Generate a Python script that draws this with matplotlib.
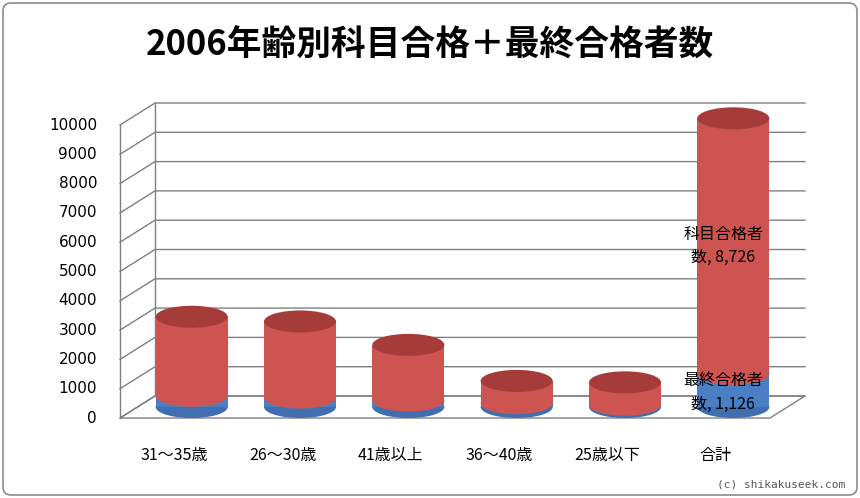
import matplotlib
matplotlib.use("Agg")
import matplotlib.pyplot as plt
from matplotlib.patches import Ellipse, Rectangle, Polygon, FancyBboxPatch

plt.rcParams['font.family'] = ['Noto Sans CJK JP', 'DejaVu Sans']

categories = ["31～35歳", "26～30歳", "41歳以上", "36～40歳", "25歳以下", "合計"]
final_pass = [380, 320, 220, 130, 76, 1126]
subject_pass = [2700, 2600, 1900, 760, 766, 8726]
yticks = list(range(0, 10001, 1000))

W, H = 860, 498
fig = plt.figure(figsize=(W/100, H/100), dpi=100)
ax = fig.add_axes([0, 0, 1, 1])
ax.set_xlim(0, W); ax.set_ylim(H, 0); ax.axis('off')

ax.add_patch(FancyBboxPatch((3, 3), W-6, H-6, boxstyle="round,pad=0,rounding_size=8",
                            fc='white', ec='#8c8c8c', lw=1.2))

y0, ppu = 418, 0.0293  # pixel per unit
dx, dy = 35, -22
x_left, x_right = 120, 770
def Y(v): return y0 - v*ppu

ax.add_patch(Polygon([(x_left, y0), (x_right, y0), (x_right+dx, y0+dy), (x_left+dx, y0+dy)],
                     closed=True, fc='white', ec='#808080', lw=1))
for v in yticks:
    y = Y(v)
    ax.plot([x_left, x_left+dx, x_right+dx], [y, y+dy, y+dy], color='#808080', lw=1, zorder=1)
    ax.text(97, y, str(v), ha='right', va='center', fontsize=11, family='DejaVu Sans')
ax.plot([x_left+dx, x_left+dx], [Y(0)+dy, Y(10000)+dy], color='#808080', lw=1, zorder=1)
ax.plot([x_left, x_left], [Y(0), Y(10000)], color='#808080', lw=1, zorder=1)

step = (x_right - x_left) / len(categories)
bw, eh = 72, 22
base = y0 + dy/2
for i, (b, r) in enumerate(zip(final_pass, subject_pass)):
    cx = x_left + step*(i+0.5) + dx/2
    yb = base; ym = base - b*ppu; yt = base - (b+r)*ppu
    ax.add_patch(Ellipse((cx, yb), bw, eh, fc='#3f6fb0', ec='none', zorder=3))
    ax.add_patch(Rectangle((cx-bw/2, ym), bw, yb-ym, fc='#4a7fc4', ec='none', zorder=3))
    ax.add_patch(Ellipse((cx, ym), bw, eh, fc='#cd5451', ec='none', zorder=4))
    ax.add_patch(Rectangle((cx-bw/2, yt), bw, ym-yt, fc='#cd5451', ec='none', zorder=4))
    ax.add_patch(Ellipse((cx, yt), bw, eh, fc='#a63c3a', ec='none', zorder=5))
    ax.text(x_left + step*(i+0.5), 455, categories[i], ha='center', va='center', fontsize=11.5)

cx = x_left + step*5.5 + dx/2
ax.text(cx-10, base - (final_pass[5] + subject_pass[5]/2)*ppu, f"科目合格者\n数, {subject_pass[5]:,}",
        ha='center', va='center', fontsize=11.5, zorder=6, linespacing=1.5)
ax.text(cx-10, base - final_pass[5]*0.2*ppu - 8, f"最終合格者\n数, {final_pass[5]:,}",
        ha='center', va='center', fontsize=11.5, zorder=6, linespacing=1.5)

ax.text(430, 45, "2006年齢別科目合格＋最終合格者数", ha='center', va='center',
        fontsize=25, fontweight='bold')
ax.text(845, 484, "(c) shikakuseek.com", ha='right', va='center', fontsize=8,
        color='#555555', family='DejaVu Sans Mono')

fig.savefig("out.png", dpi=100)
